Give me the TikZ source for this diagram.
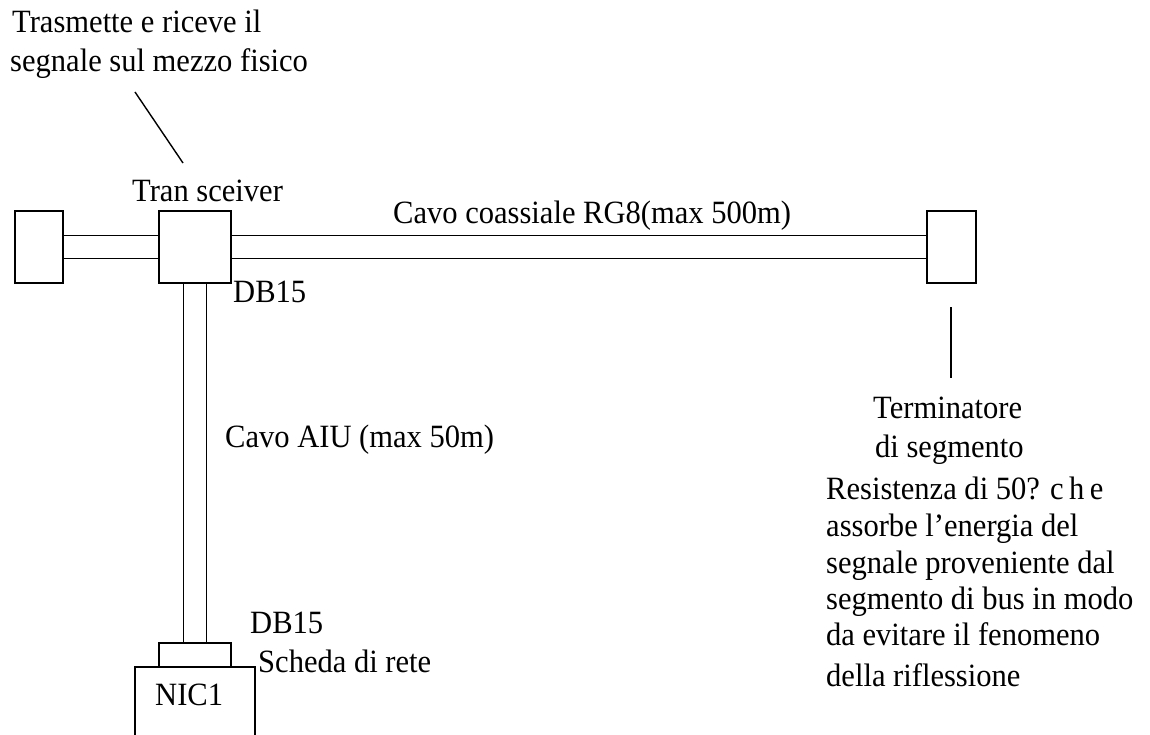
\documentclass[tikz,border=0pt]{standalone}
\usepackage{fontspec}
\setmainfont[FakeStretch=0.94]{Liberation Serif}
\begin{document}
\begin{tikzpicture}[x=1pt,y=-1pt,
  every node/.style={font=\fontsize{32.5}{38}\selectfont},
  box/.style={draw,line width=1.8pt,inner sep=0pt,rectangle},
  lbl/.style={anchor=base west,inner sep=0pt},
  cable/.style={line width=1.6pt,double=white,double distance=21.5pt},
  wire/.style={line width=1.8pt}]
\path[use as bounding box,clip] (0,0) rectangle (1150,735);
\fill[white] (0,0) rectangle (1150,735);

% boxes on the coaxial segment
\node[box,minimum width=48pt,minimum height=72pt] (endL) at (39,247) {};
\node[box,minimum width=72pt,minimum height=72pt] (trx) at (195,247) {};
\node[box,minimum width=49pt,minimum height=72pt] (term) at (951.5,247) {};

% DB15 connector and network card
\node[box,minimum width=72pt,minimum height=24pt] (db) at (195,655) {};
\node[inner sep=0pt,minimum width=120pt,minimum height=90pt] (nic) at (195,712) {};
\draw[wire] (nic.south west) -- (nic.north west) -- (nic.north east) -- (nic.south east);

% cables
\draw[cable] (endL.east) -- (trx.west);
\draw[cable] (trx.east) -- (term.west);
\draw[cable] (trx.south) -- (db.north);

% leader lines
\coordinate (leadA) at (135,92);
\coordinate (leadB) at (183,163);
\draw[line width=1.4pt] (leadA) -- (leadB);
\coordinate (termA) at (951,307);
\coordinate (termB) at (951,378);
\draw[line width=1.6pt] (termA) -- (termB);

% labels
\node[lbl] (t1) at (12,33) {Trasmette e riceve il};
\node[lbl] (t2) at (10,72) {segnale sul mezzo fisico};
\node[lbl] (trxl) at (132,202) {Tran sceiver};
\node[lbl] (coaxl) at (393,224) {Cavo coassiale RG8(max 500m)};
\node[lbl] (dbt) at (233,302) {DB15};
\node[lbl] (auil) at (225,447) {Cavo AIU (max 50m)};
\node[lbl] (dbb) at (250,633) {DB15};
\node[lbl] (nicl) at (258,672) {Scheda di rete};
\node[lbl] (nict) at (155,705) {NIC1};
\node[lbl] (tm1) at (873,418) {Terminatore};
\node[lbl] (tm2) at (875,457) {di segmento};
\node[lbl] (r1) at (826,499) {Resistenza di 50? c\,h\,e};
\node[lbl] (r2) at (826,536) {assorbe l’energia del};
\node[lbl] (r3) at (826,573) {segnale proveniente dal};
\node[lbl] (r4) at (826,609) {segmento di bus in modo};
\node[lbl] (r5) at (826,645) {da evitare il fenomeno};
\node[lbl] (r6) at (826,686) {della riflessione};
\end{tikzpicture}
\end{document}
